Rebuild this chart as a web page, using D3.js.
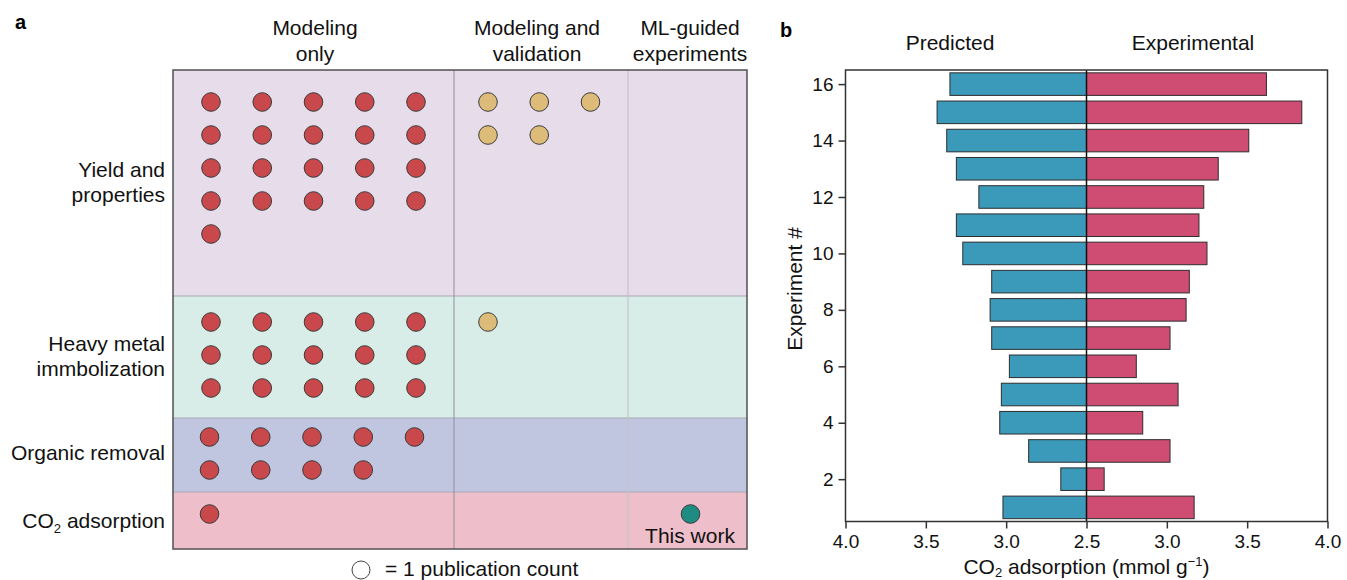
<!DOCTYPE html>
<html>
<head>
<meta charset="utf-8">
<style>
  body { margin: 0; background: #fff; }
  svg { display: block; font-family: "Liberation Sans", Arial, sans-serif; }
</style>
</head>
<body>
<script src="https://cdn.jsdelivr.net/npm/d3@7"></script>
<script>

// ---- panel a data ----
var applications = [["Yield and", "properties"], ["Heavy metal", "immbolization"], ["Organic removal"], ["CO2 adsorption"]];
var stages = [["Modeling", "only"], ["Modeling and", "validation"], ["ML-guided", "experiments"]];
var modelingOnly = [21, 15, 9, 1];
var modelingValidation = [5, 1, 0, 0];
var mlGuided = [0, 0, 0, 1];

// ---- panel b data ----
var experiments = [1, 2, 3, 4, 5, 6, 7, 8, 9, 10, 11, 12, 13, 14, 15, 16];
var predicted = [3.02, 2.66, 2.86, 3.04, 3.03, 2.98, 3.09, 3.10, 3.09, 3.27, 3.31, 3.17, 3.31, 3.37, 3.43, 3.35];
var experimental = [3.17, 2.61, 3.02, 2.85, 3.07, 2.81, 3.02, 3.12, 3.14, 3.25, 3.20, 3.23, 3.32, 3.51, 3.84, 3.62];
var leftTicks = [4.0, 3.5, 3.0, 2.5];
var rightTicks = [3.0, 3.5, 4.0];
var yTicks = [2, 4, 6, 8, 10, 12, 14, 16];

var width = 1347,
    height = 580;

var svg = d3.select("body").append("svg")
    .attr("width", width)
    .attr("height", height);

var FS = 21;

// =================== PANEL A ===================
var colEdges = [173, 454, 628, 747];
var headerX = [315, 537, 690];
var rowEdges = [70, 296, 418, 492, 549];
var rowPad = [32, 26, 19, 22];
var perLine = [5, 3, 1];
var rowFill = ["#e6dcea", "#d9ede8", "#c1c6e0", "#eebfca"];
var stageFill = ["#c9484b", "#ddbc7a", "#1f8c83"];
var counts = [modelingOnly, modelingValidation, mlGuided];

var pa = svg.append("g");

pa.append("text").attr("x", 15).attr("y", 29)
  .attr("font-size", 20).attr("font-weight", "bold").text("a");

// row backgrounds
pa.selectAll("rect.row")
  .data(applications)
  .enter().append("rect")
  .attr("class", "row")
  .attr("x", colEdges[0])
  .attr("y", function(d, i) { return rowEdges[i]; })
  .attr("width", colEdges[3] - colEdges[0])
  .attr("height", function(d, i) { return rowEdges[i + 1] - rowEdges[i]; })
  .attr("fill", function(d, i) { return rowFill[i]; });

// inner row lines
for (var r = 1; r < 4; r++) {
  pa.append("line")
    .attr("x1", colEdges[0]).attr("x2", colEdges[3])
    .attr("y1", rowEdges[r]).attr("y2", rowEdges[r])
    .attr("stroke", "#a9a9b4").attr("stroke-width", 1);
}
// column lines
pa.append("line").attr("x1", colEdges[1]).attr("x2", colEdges[1])
  .attr("y1", rowEdges[0]).attr("y2", rowEdges[4])
  .attr("stroke", "#8f8f98").attr("stroke-width", 1);
pa.append("line").attr("x1", colEdges[2]).attr("x2", colEdges[2])
  .attr("y1", rowEdges[0]).attr("y2", rowEdges[4])
  .attr("stroke", "#c4c4c8").attr("stroke-width", 1.2);

// outer box
pa.append("rect")
  .attr("x", colEdges[0]).attr("y", rowEdges[0])
  .attr("width", colEdges[3] - colEdges[0])
  .attr("height", rowEdges[4] - rowEdges[0])
  .attr("fill", "none").attr("stroke", "#505050").attr("stroke-width", 1.5);

// column headers
stages.forEach(function(lines, c) {
  var t = pa.append("text").attr("text-anchor", "middle").attr("font-size", FS).attr("fill", "#111");
  lines.forEach(function(l, k) {
    t.append("tspan").attr("x", headerX[c]).attr("y", 35 + k * 26).text(l);
  });
});

// row labels
applications.forEach(function(lines, r) {
  var cy = (rowEdges[r] + rowEdges[r + 1]) / 2;
  var t = pa.append("text").attr("text-anchor", "end").attr("font-size", FS).attr("fill", "#111");
  if (lines.length == 2) {
    lines.forEach(function(l, k) {
      t.append("tspan").attr("x", 165).attr("y", cy - 6 + k * 25).text(l);
    });
  } else if (lines[0] == "CO2 adsorption") {
    t.attr("x", 165).attr("y", cy + 7);
    t.append("tspan").text("CO");
    t.append("tspan").attr("font-size", 13).attr("dy", 5).text("2");
    t.append("tspan").attr("dy", -5).text(" adsorption");
  } else {
    t.attr("x", 165).attr("y", cy + 5).text(lines[0]);
  }
});

// circles: one per publication
var dx = d3.scaleLinear().domain([0, 4]).range([0, 205]);
var dots = [];
counts.forEach(function(arr, c) {
  arr.forEach(function(n, r) {
    for (var k = 0; k < n; k++) {
      dots.push({stage: c, row: r, col: k % perLine[c], line: Math.floor(k / perLine[c])});
    }
  });
});

pa.selectAll("circle.pub")
  .data(dots)
  .enter().append("circle")
  .attr("class", "pub")
  .attr("cx", function(d) {
    if (d.stage == 2) return (colEdges[2] + colEdges[3]) / 2 + 3;
    return colEdges[d.stage] + (d.stage == 0 ? 38 : 34) + dx(d.col) - (d.row == 2 || d.row == 3 ? 1.5 : 0);
  })
  .attr("cy", function(d) { return rowEdges[d.row] + rowPad[d.row] + d.line * 33; })
  .attr("r", 9.3)
  .attr("fill", function(d) { return stageFill[d.stage]; })
  .attr("stroke", "#3b3b3b")
  .attr("stroke-width", 1);

pa.append("text").attr("x", 690).attr("y", 543)
  .attr("text-anchor", "middle").attr("font-size", FS).attr("fill", "#111")
  .text("This work");

// legend
pa.append("circle").attr("cx", 361).attr("cy", 570).attr("r", 9)
  .attr("fill", "#fff").attr("stroke", "#444").attr("stroke-width", 1);
pa.append("text").attr("x", 385).attr("y", 576)
  .attr("font-size", FS).attr("fill", "#111")
  .text("= 1 publication count");

// =================== PANEL B ===================
var bx0 = 845.5, bxm = 1086.5, bx1 = 1327.5;
var xL = d3.scaleLinear().domain([4.0, 2.5]).range([bx0, bxm]);
var xR = d3.scaleLinear().domain([2.5, 4.0]).range([bxm, bx1]);
var y = d3.scaleLinear().domain([0.5, 16.5]).range([521.5, 70]);
var barH = 0.8 * (y(0) - y(1));

var pb = svg.append("g");

pb.append("text").attr("x", 780).attr("y", 37)
  .attr("font-size", 20).attr("font-weight", "bold").text("b");

pb.append("text").attr("x", 950).attr("y", 50)
  .attr("text-anchor", "middle").attr("font-size", FS).attr("fill", "#111").text("Predicted");
pb.append("text").attr("x", 1193).attr("y", 50)
  .attr("text-anchor", "middle").attr("font-size", FS).attr("fill", "#111").text("Experimental");

pb.selectAll("rect.pred")
  .data(experiments)
  .enter().append("rect")
  .attr("class", "pred")
  .attr("x", function(d, i) { return xL(predicted[i]); })
  .attr("y", function(d) { return y(d) - barH / 2; })
  .attr("width", function(d, i) { return bxm - xL(predicted[i]); })
  .attr("height", barH)
  .attr("fill", "#3b99ba")
  .attr("stroke", "#2e2e2e")
  .attr("stroke-width", 1);

pb.selectAll("rect.expt")
  .data(experiments)
  .enter().append("rect")
  .attr("class", "expt")
  .attr("x", bxm)
  .attr("y", function(d) { return y(d) - barH / 2; })
  .attr("width", function(d, i) { return xR(experimental[i]) - bxm; })
  .attr("height", barH)
  .attr("fill", "#cf4d72")
  .attr("stroke", "#2e2e2e")
  .attr("stroke-width", 1);

// center line
pb.append("line").attr("x1", bxm).attr("x2", bxm)
  .attr("y1", y(16.5)).attr("y2", y(0.5))
  .attr("stroke", "#111").attr("stroke-width", 1.5);

// box
pb.append("rect").attr("x", bx0).attr("y", y(16.5))
  .attr("width", bx1 - bx0).attr("height", y(0.5) - y(16.5))
  .attr("fill", "none").attr("stroke", "#333").attr("stroke-width", 1.5);

function styleAxis(g) {
  g.select(".domain").remove();
  g.selectAll(".tick line").attr("stroke", "#333").attr("stroke-width", 1.5);
  g.selectAll(".tick text").attr("font-size", 19).attr("fill", "#111")
    .attr("font-family", "Liberation Sans, Arial, sans-serif");
}

pb.append("g").attr("transform", "translate(0," + y(0.5) + ")")
  .call(d3.axisBottom(xL).tickValues(leftTicks).tickFormat(d3.format(".1f")).tickSize(7).tickPadding(6))
  .call(styleAxis);
pb.append("g").attr("transform", "translate(0," + y(0.5) + ")")
  .call(d3.axisBottom(xR).tickValues(rightTicks).tickFormat(d3.format(".1f")).tickSize(7).tickPadding(6))
  .call(styleAxis);
pb.append("g").attr("transform", "translate(" + bx0 + ",0)")
  .call(d3.axisLeft(y).tickValues(yTicks).tickSize(7).tickPadding(5))
  .call(styleAxis);

// axis titles
pb.append("text")
  .attr("transform", "translate(802,289) rotate(-90)")
  .attr("text-anchor", "middle").attr("font-size", 21).attr("fill", "#111")
  .text("Experiment #");

var xt = pb.append("text").attr("x", bxm).attr("y", 574)
  .attr("text-anchor", "middle").attr("font-size", FS).attr("fill", "#111");
xt.append("tspan").text("CO");
xt.append("tspan").attr("font-size", 13).attr("dy", 3).text("2");
xt.append("tspan").attr("dy", -3).text(" adsorption (mmol g");
xt.append("tspan").attr("font-size", 13).attr("dy", -8).text("\u22121");
xt.append("tspan").attr("dy", 8).text(")");

</script>
</body>
</html>
